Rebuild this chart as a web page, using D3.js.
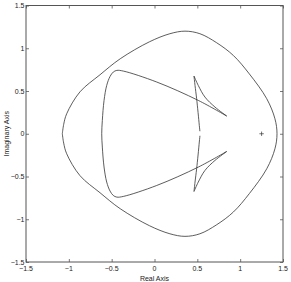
<!DOCTYPE html>
<html><head><meta charset="utf-8">
<script src="https://cdn.jsdelivr.net/npm/d3@7"></script>
<style>
html,body{margin:0;padding:0;background:#fff;}
svg{display:block;}
text{font-family:"Liberation Sans",Arial,Helvetica,sans-serif;fill:#222;}
</style></head>
<body>
<svg id="chart" width="291" height="282"></svg>
<script>
// ---- data ----
const xTicks = [-1.5, -1, -0.5, 0, 0.5, 1, 1.5];
const xTickLabels = ["\u22121.5", "\u22121", "\u22120.5", "0", "0.5", "1", "1.5"];
const yTicks = [-1.5, -1, -0.5, 0, 0.5, 1, 1.5];
const yTickLabels = ["\u22121.5", "\u22121", "\u22120.5", "0", "0.5", "1", "1.5"];
const xLabel = "Real  Axis";
const yLabel = "Imaginary  Axis";

// outer closed curve
const outerCurve = [
  [-1.076, 0], [-1.06, 0.11], [-1.025, 0.234], [-0.87, 0.49], [-0.636, 0.69], [-0.40, 0.877],
  [-0.06, 1.075], [0.18, 1.17], [0.356, 1.20], [0.53, 1.17], [0.726, 1.064],
  [0.92, 0.916], [1.107, 0.70], [1.31, 0.41], [1.406, 0.175], [1.43, 0],
  [1.406, -0.175], [1.31, -0.41], [1.107, -0.70], [0.92, -0.916], [0.726, -1.064],
  [0.53, -1.17], [0.356, -1.20], [0.18, -1.17], [-0.06, -1.075], [-0.40, -0.877],
  [-0.636, -0.69], [-0.87, -0.49], [-1.025, -0.234], [-1.06, -0.11], [-1.076, 0]
];
// inner "D" shaped branch
const innerCurve = [
  [0.843, 0.207], [0.511, 0.39], [0.026, 0.605], [-0.364, 0.733], [-0.44, 0.741],
  [-0.481, 0.722], [-0.519, 0.67], [-0.558, 0.565], [-0.589, 0.389], [-0.609, 0.156], [-0.616, 0],
  [-0.609, -0.156], [-0.589, -0.389], [-0.558, -0.565], [-0.519, -0.67], [-0.481, -0.722],
  [-0.44, -0.741], [-0.364, -0.733], [0.026, -0.605], [0.511, -0.39], [0.843, -0.207]
];
// cusp branches
const cuspUpper = [[0.843, 0.207], [0.706, 0.312], [0.589, 0.429], [0.511, 0.565], [0.461, 0.675]];
const cuspMiddle = [[0.461, 0.675], [0.473, 0.565], [0.492, 0.409], [0.523, 0.097], [0.531, 0],
  [0.523, -0.097], [0.492, -0.409], [0.473, -0.565], [0.461, -0.675]];
const cuspLower = [[0.461, -0.675], [0.511, -0.565], [0.589, -0.429], [0.706, -0.312], [0.843, -0.207]];
// markers
const plusMarker = [1.25, 0];
const whiteMarker = [0.531, 0];

// ---- layout ----
const svg = d3.select("#chart");
const L = 26, R = 283, T = 5.5, B = 262;
const x = d3.scaleLinear().domain([-1.5, 1.5]).range([L, R]);
const y = d3.scaleLinear().domain([-1.5, 1.5]).range([B, T]);

const tick = 3;
const axisColor = "#555";
const g = svg.append("g");

// ticks (inward on all four sides)
function drawAxis(gen, tr) {
  const a = svg.append("g").attr("transform", tr).call(gen);
  a.select(".domain").remove();
  a.selectAll("text").remove();
  a.selectAll("line").attr("stroke", axisColor).attr("stroke-width", 0.8);
  return a;
}
drawAxis(d3.axisBottom(x).tickValues(xTicks).tickSizeInner(-tick).tickSizeOuter(0), `translate(0,${B})`);
drawAxis(d3.axisTop(x).tickValues(xTicks).tickSizeInner(-tick).tickSizeOuter(0), `translate(0,${T})`);
drawAxis(d3.axisLeft(y).tickValues(yTicks).tickSizeInner(-tick).tickSizeOuter(0), `translate(${L},0)`);
drawAxis(d3.axisRight(y).tickValues(yTicks).tickSizeInner(-tick).tickSizeOuter(0), `translate(${R},0)`);

// box
svg.append("rect").attr("x", L).attr("y", T).attr("width", R - L).attr("height", B - T)
  .attr("fill", "none").attr("stroke", axisColor).attr("stroke-width", 1);

// tick labels
svg.append("g").selectAll("text").data(xTicks).join("text")
  .attr("x", d => x(d)).attr("y", B + 9)
  .attr("text-anchor", "middle").attr("font-size", 7)
  .text((d, i) => xTickLabels[i]);
svg.append("g").selectAll("text").data(yTicks).join("text")
  .attr("x", L - 1.5).attr("y", d => y(d) + 2.5)
  .attr("text-anchor", "end").attr("font-size", 7)
  .text((d, i) => yTickLabels[i]);

// axis labels
svg.append("text").attr("x", (L + R) / 2).attr("y", 280.5)
  .attr("text-anchor", "middle").attr("font-size", 7).text(xLabel);
svg.append("text").attr("transform", `translate(8.5,${(T + B) / 2}) rotate(-90)`)
  .attr("text-anchor", "middle").attr("font-size", 7).text(yLabel);

// curves
const line = d3.line().x(d => x(d[0])).y(d => y(d[1])).curve(d3.curveCatmullRom.alpha(0.5));
const plot = svg.append("g").attr("fill", "none").attr("stroke", "#333").attr("stroke-width", 0.8);
[outerCurve, innerCurve, cuspUpper, cuspMiddle, cuspLower].forEach(c => {
  plot.append("path").attr("d", line(c));
});

// white marker on middle branch
svg.append("line")
  .attr("x1", x(whiteMarker[0])).attr("x2", x(whiteMarker[0]))
  .attr("y1", y(whiteMarker[1]) - 2.5).attr("y2", y(whiteMarker[1]) + 2)
  .attr("stroke", "#fff").attr("stroke-width", 2);

// plus marker
const ps = 2.2;
const pg = svg.append("g").attr("stroke", "#333").attr("stroke-width", 0.7);
pg.append("line").attr("x1", x(plusMarker[0]) - ps).attr("x2", x(plusMarker[0]) + ps)
  .attr("y1", y(plusMarker[1])).attr("y2", y(plusMarker[1]));
pg.append("line").attr("x1", x(plusMarker[0])).attr("x2", x(plusMarker[0]))
  .attr("y1", y(plusMarker[1]) - ps).attr("y2", y(plusMarker[1]) + ps);
</script>
</body></html>
